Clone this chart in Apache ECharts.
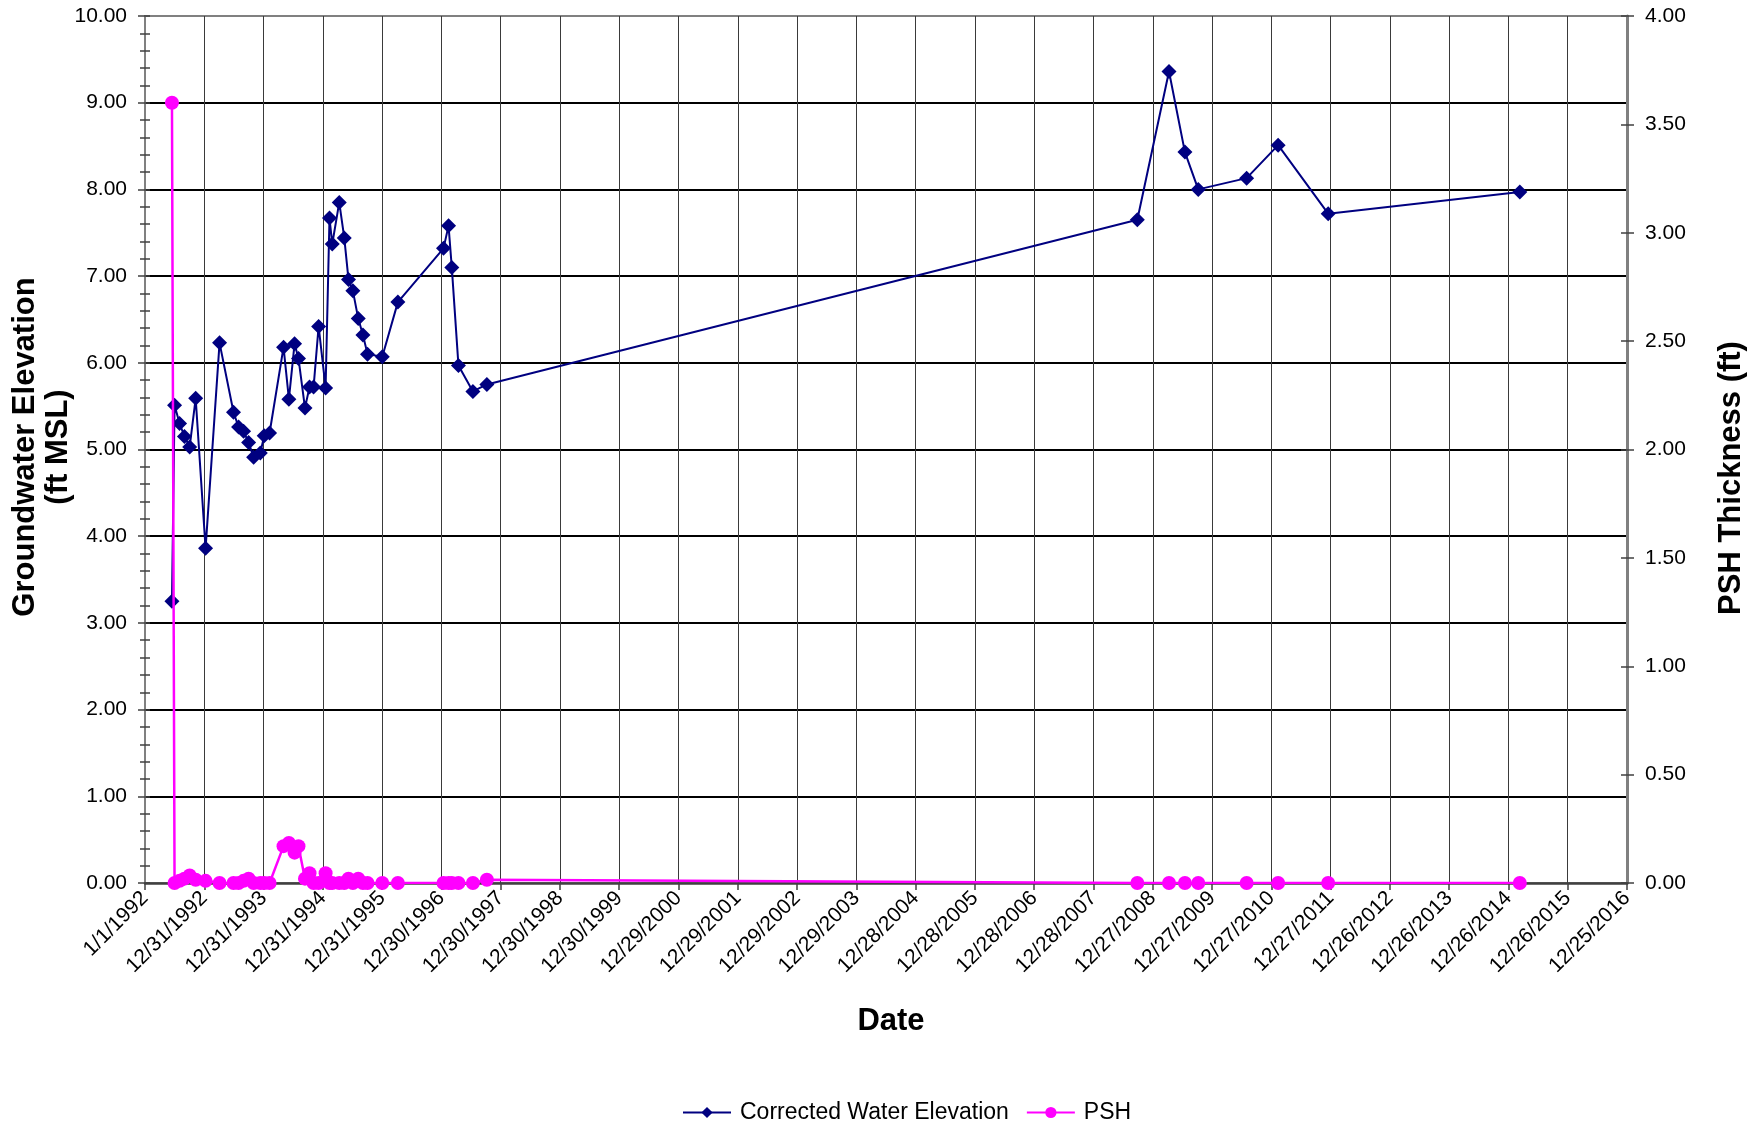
<!DOCTYPE html>
<html>
<head>
<meta charset="utf-8">
<title>Groundwater Elevation and PSH Thickness</title>
<script src="https://cdn.jsdelivr.net/npm/echarts@6/dist/echarts.min.js"></script>
<style>
  html, body { margin: 0; padding: 0; background: #ffffff; }
  #chart { width: 1753px; height: 1126px; }
</style>
</head>
<body>
<div id="chart"></div>
<script>
// Sampling dates (monitoring events)
const sampleDates = [
  '1992-06-15', '1992-07-01', '1992-08-01', '1992-08-31', '1992-10-02', '1992-11-08',
  '1993-01-08', '1993-04-04', '1993-06-29', '1993-07-30', '1993-08-30', '1993-09-30',
  '1993-10-31', '1993-12-11', '1994-01-04', '1994-02-06', '1994-05-03', '1994-06-05',
  '1994-07-10', '1994-08-03', '1994-09-12', '1994-10-10', '1994-11-04', '1994-12-05',
  '1995-01-17', '1995-02-10', '1995-02-27', '1995-04-11', '1995-05-12', '1995-06-07',
  '1995-07-04', '1995-08-06', '1995-09-04', '1995-10-02', '1996-01-01', '1996-04-06',
  '1997-01-12', '1997-02-12', '1997-03-04', '1997-04-14', '1997-07-12', '1997-10-06',
  '2008-09-23', '2009-04-06', '2009-07-13', '2009-10-03', '2010-07-28', '2011-02-07',
  '2011-12-12', '2015-03-06'
];

// Corrected water elevation (ft MSL)
const waterElevation = [
  3.25, 5.51, 5.30, 5.15, 5.03, 5.59,
  3.86, 6.23, 5.43, 5.26, 5.21, 5.08,
  4.91, 4.96, 5.16, 5.19, 6.18, 5.58,
  6.22, 6.05, 5.48, 5.72, 5.72, 6.42,
  5.71, 7.67, 7.37, 7.85, 7.44, 6.96,
  6.83, 6.51, 6.32, 6.10, 6.07, 6.70,
  7.32, 7.58, 7.10, 5.97, 5.67, 5.75,
  7.65, 9.36, 8.43, 8.00, 8.13, 8.51,
  7.72, 7.97
];

// PSH thickness (ft)
const pshThickness = [
  3.60, 0.00, 0.01, 0.02, 0.035, 0.015,
  0.01, 0.00, 0.00, 0.00, 0.01, 0.02,
  0.00, 0.00, 0.00, 0.00, 0.17, 0.185,
  0.14, 0.17, 0.02, 0.045, 0.00, 0.00,
  0.045, 0.00, 0.00, 0.00, 0.00, 0.02,
  0.00, 0.02, 0.00, 0.00, 0.00, 0.00,
  0.00, 0.00, 0.00, 0.00, 0.00, 0.015,
  0.00, 0.00, 0.00, 0.00, 0.00, 0.00,
  0.00, 0.00
];

// Date axis tick labels, one every 365 days from 1/1/1992
const dateTickLabels = [
  '1/1/1992', '12/31/1992', '12/31/1993', '12/31/1994', '12/31/1995', '12/30/1996',
  '12/30/1997', '12/30/1998', '12/30/1999', '12/29/2000', '12/29/2001', '12/29/2002',
  '12/29/2003', '12/28/2004', '12/28/2005', '12/28/2006', '12/28/2007', '12/27/2008',
  '12/27/2009', '12/27/2010', '12/27/2011', '12/26/2012', '12/26/2013', '12/26/2014',
  '12/26/2015', '12/25/2016'
];

const DAY_MS = 86400000;
const ORIGIN = Date.UTC(1992, 0, 1);
const STEP_DAYS = 365;
const toDay = d => Math.round((Date.parse(d + 'T00:00:00Z') - ORIGIN) / DAY_MS);

const wlData = sampleDates.map((d, i) => [toDay(d), waterElevation[i]]);
const pshData = sampleDates.map((d, i) => [toDay(d), pshThickness[i]]);

const FONT = '"Liberation Sans", Arial, sans-serif';
const NAVY = '#000080';
const MAGENTA = '#FF00FF';

const chart = echarts.init(document.getElementById('chart'), null, { renderer: 'canvas' });

chart.setOption({
  backgroundColor: '#ffffff',
  animation: false,
  textStyle: { fontFamily: FONT, color: '#000' },
  grid: {
    left: 145, right: 126, top: 16, bottom: 243,
    show: true, borderColor: '#808080', borderWidth: 2, backgroundColor: 'transparent'
  },
  legend: {
    left: 677, top: 1096,
    itemWidth: 48, itemHeight: 14, itemGap: 17,
    textStyle: { fontFamily: FONT, fontSize: 23, color: '#000', padding: [0, 0, 0, 4] },
    data: ['Corrected Water Elevation', 'PSH']
  },
  xAxis: {
    type: 'value',
    min: 0, max: STEP_DAYS * (dateTickLabels.length - 1), interval: STEP_DAYS,
    axisLine: { show: true, lineStyle: { color: '#404040', width: 2.5 } },
    axisTick: { show: true, length: 7, lineStyle: { color: '#404040', width: 1.5 } },
    axisLabel: {
      rotate: 45, margin: 12, fontSize: 21, color: '#000', fontFamily: FONT,
      formatter: v => dateTickLabels[Math.round(v / STEP_DAYS)] || ''
    },
    splitLine: { show: true, showMinLine: false, showMaxLine: false, lineStyle: { color: '#3a3a3a', width: 1 } }
  },
  yAxis: [
    {
      type: 'value', position: 'left', min: 0, max: 10, interval: 1,
      axisLine: { show: true, lineStyle: { color: '#808080', width: 2 } },
      axisTick: { show: true, length: 7, lineStyle: { color: '#404040', width: 1.5 } },
      minorTick: { show: true, splitNumber: 5, length: 5, lineStyle: { color: '#404040', width: 1.5 } },
      axisLabel: { margin: 18, fontSize: 21, color: '#000', fontFamily: FONT, formatter: v => v.toFixed(2) },
      splitLine: { show: true, showMinLine: false, showMaxLine: false, lineStyle: { color: '#000', width: 2 } }
    },
    {
      type: 'value', position: 'right', min: 0, max: 4, interval: 0.5,
      axisLine: { show: true, lineStyle: { color: '#808080', width: 3 } },
      axisTick: { show: true, length: 7, lineStyle: { color: '#404040', width: 1.5 } },
      axisLabel: { margin: 18, fontSize: 21, color: '#000', fontFamily: FONT, formatter: v => v.toFixed(2) },
      splitLine: { show: false }
    },
    {
      // inner half of the crossing ticks on the elevation axis
      type: 'value', position: 'left', min: 0, max: 10, interval: 1,
      axisLine: { show: false },
      axisTick: { show: true, inside: true, length: 5, lineStyle: { color: '#404040', width: 1.5 } },
      minorTick: { show: true, splitNumber: 5, length: 5, lineStyle: { color: '#404040', width: 1.5 } },
      axisLabel: { show: false },
      splitLine: { show: false }
    },
    {
      // inner half of the crossing ticks on the thickness axis
      type: 'value', position: 'right', min: 0, max: 4, interval: 0.5,
      axisLine: { show: false },
      axisTick: { show: true, inside: true, length: 6, lineStyle: { color: '#404040', width: 1.5 } },
      axisLabel: { show: false },
      splitLine: { show: false }
    }
  ],
  graphic: [
    {
      type: 'text', x: 25, y: 447, rotation: Math.PI / 2,
      style: { text: 'Groundwater Elevation', font: 'bold 31px ' + FONT, fill: '#000', textAlign: 'center', textVerticalAlign: 'middle' }
    },
    {
      type: 'text', x: 58, y: 447, rotation: Math.PI / 2,
      style: { text: '(ft MSL)', font: 'bold 31px ' + FONT, fill: '#000', textAlign: 'center', textVerticalAlign: 'middle' }
    },
    {
      type: 'text', x: 1731, y: 478, rotation: Math.PI / 2,
      style: { text: 'PSH Thickness (ft)', font: 'bold 31px ' + FONT, fill: '#000', textAlign: 'center', textVerticalAlign: 'middle' }
    },
    {
      type: 'text', x: 891, y: 1021,
      style: { text: 'Date', font: 'bold 31px ' + FONT, fill: '#000', textAlign: 'center', textVerticalAlign: 'middle' }
    }
  ],
  series: [
    {
      name: 'Corrected Water Elevation',
      type: 'line',
      xAxisIndex: 0, yAxisIndex: 0,
      data: wlData,
      symbol: 'diamond', symbolSize: 15,
      itemStyle: { color: NAVY },
      lineStyle: { color: NAVY, width: 2 },
      z: 3
    },
    {
      name: 'PSH',
      type: 'line',
      xAxisIndex: 0, yAxisIndex: 1,
      data: pshData,
      symbol: 'circle', symbolSize: 14,
      itemStyle: { color: MAGENTA },
      lineStyle: { color: MAGENTA, width: 2.5 },
      z: 4
    }
  ]
});
</script>
</body>
</html>
